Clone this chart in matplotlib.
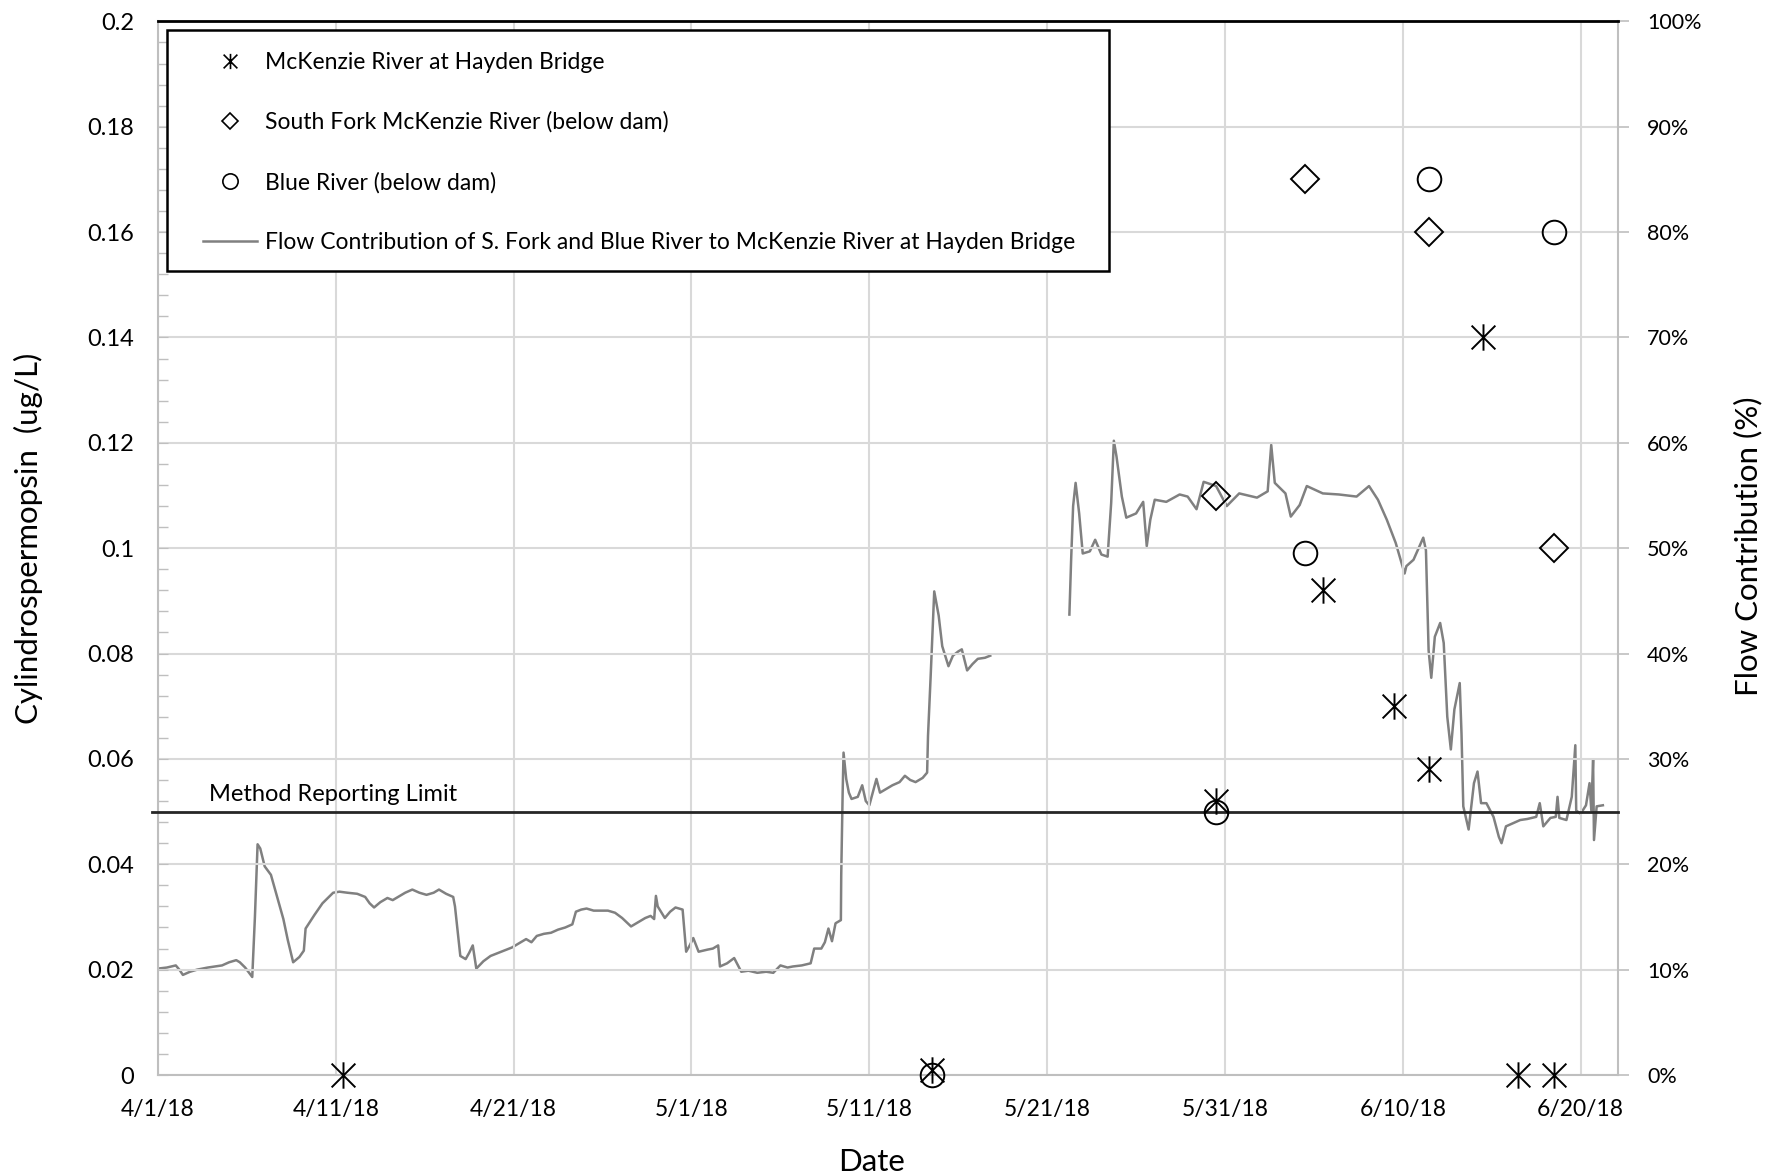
import numpy as np
import pandas as pd
import matplotlib
matplotlib.use("Agg")
import matplotlib.pyplot as plt
import matplotlib.dates as mdates
from matplotlib.lines import Line2D
from matplotlib.patches import Rectangle
from matplotlib.path import Path
from matplotlib.transforms import blended_transform_factory

# ---------------- data ----------------
start_date = "2018-04-01"

# sample days (offset in days from 4/1/18) and cylindrospermopsin (ug/L)
mckenzie_day = [10.4, 43.5, 59.5, 65.5, 69.5, 71.5, 74.5, 76.5, 78.5]
mckenzie_val = [0.0, 0.001, 0.052, 0.092, 0.070, 0.058, 0.140, 0.0, 0.0]

southfork_day = [59.5, 64.5, 71.5, 78.5]
southfork_val = [0.110, 0.170, 0.160, 0.100]

blue_day = [43.5, 59.5, 64.5, 71.5, 78.5]
blue_val = [0.0, 0.050, 0.099, 0.170, 0.160]

# flow contribution (%) time series, day offsets from 4/1/18 (gap = NaN)
flow_day = [
    0.0, 0.5, 1.0, 1.2, 1.4, 1.8, 2.2, 2.8, 3.2, 3.6, 4.0, 4.4, 4.6, 4.9, 5.3,
    5.45, 5.6, 5.75, 6.0, 6.35, 6.7, 7.05, 7.3, 7.6, 7.95, 8.2, 8.3, 8.8, 9.25,
    9.85, 10.2, 10.65, 11.2, 11.65, 11.9, 12.15, 12.5, 12.9, 13.2, 13.5, 13.9,
    14.3, 14.7, 15.1, 15.5, 15.8, 16.2, 16.6, 16.7, 17.0, 17.3, 17.5, 17.7,
    17.9, 18.3, 18.7, 19.3, 19.9, 20.3, 20.7, 21.0, 21.3, 21.7, 22.1, 22.5,
    22.9, 23.3, 23.5, 23.8, 24.1, 24.5, 24.9, 25.3, 25.7, 26.1, 26.6, 27.1,
    27.4, 27.7, 27.9, 28.0, 28.1, 28.5, 28.8, 29.1, 29.5, 29.7, 29.9, 30.1,
    30.4, 30.9, 31.2, 31.5, 31.6, 32.0, 32.4, 32.8, 33.2, 33.7, 34.2, 34.6,
    35.0, 35.4, 35.7, 36.2, 36.7, 36.9, 37.3, 37.5, 37.7, 37.9, 38.1, 38.4,
    38.42, 38.5, 38.55, 38.7, 38.85, 39.0, 39.35, 39.6, 39.8, 40.0, 40.4,
    40.6, 41.0, 41.3, 41.7, 42.0, 42.3, 42.6, 43.0, 43.25, 43.3, 43.45, 43.65,
    43.9, 44.1, 44.45, 44.7, 45.0, 45.2, 45.5, 45.8, 46.1, 46.5, 46.8,
    49.0,
    51.25, 51.35, 51.46, 51.6, 51.8, 52.0, 52.4, 52.7, 53.05, 53.4, 53.6,
    53.75, 53.9, 54.2, 54.45, 55.0, 55.4, 55.6, 55.8, 56.05, 56.7, 57.45,
    57.9, 58.4, 58.8, 59.5, 60.1, 60.8, 61.8, 62.4, 62.6, 62.8, 63.4, 63.7,
    64.2, 64.6, 65.5, 66.4, 67.4, 68.1, 68.6, 69.1, 69.6, 70.1, 70.2, 70.6,
    71.15, 71.3, 71.45, 71.6, 71.8, 72.1, 72.3, 72.5, 72.7, 72.9, 73.2, 73.3,
    73.4, 73.7, 74.0, 74.2, 74.4, 74.7, 75.1, 75.4, 75.55, 75.8, 76.2, 76.6,
    77.0, 77.5, 77.7, 77.9, 78.3, 78.6, 78.7, 78.8, 79.2, 79.5, 79.7, 79.75,
    80.0, 80.3, 80.5, 80.6, 80.7, 80.75, 80.9, 81.25,
]
flow_pct = [
    10.1, 10.2, 10.4, 10.0, 9.5, 9.8, 10.0, 10.2, 10.3, 10.4, 10.7, 10.9, 10.7,
    10.2, 9.3, 15.0, 21.9, 21.5, 19.8, 19.0, 16.9, 14.8, 12.8, 10.7, 11.2,
    11.8, 13.9, 15.2, 16.3, 17.3, 17.4, 17.3, 17.2, 16.9, 16.3, 15.9, 16.4,
    16.8, 16.6, 16.9, 17.3, 17.6, 17.3, 17.1, 17.3, 17.6, 17.2, 16.9, 16.0,
    11.3, 11.0, 11.6, 12.3, 10.1, 10.8, 11.3, 11.7, 12.1, 12.5, 12.9, 12.6,
    13.2, 13.4, 13.5, 13.8, 14.0, 14.3, 15.5, 15.7, 15.8, 15.6, 15.6, 15.6,
    15.4, 14.9, 14.1, 14.6, 14.9, 15.1, 14.8, 17.0, 16.0, 14.9, 15.5, 15.9,
    15.7, 11.7, 12.3, 13.0, 11.7, 11.9, 12.0, 12.3, 10.3, 10.6, 11.1, 9.8,
    9.9, 9.7, 9.8, 9.7, 10.4, 10.2, 10.3, 10.4, 10.6, 12.0, 12.0, 12.6, 13.9,
    12.7, 14.4, 14.7, 19.0, 26.8, 30.6, 28.1, 26.8, 26.2, 26.4, 27.5, 26.0,
    25.6, 28.1, 26.8, 27.2, 27.5, 27.8, 28.4, 28.0, 27.8, 28.2, 28.7, 32.2,
    37.9, 45.9, 43.6, 40.7, 38.8, 39.8, 40.2, 40.4, 38.4, 39.0, 39.5, 39.6,
    39.8,
    np.nan,
    43.7, 49.0, 54.0, 56.2, 53.3, 49.5, 49.7, 50.8, 49.4, 49.2, 54.3, 60.2,
    58.7, 54.9, 52.9, 53.3, 54.4, 50.2, 52.7, 54.6, 54.4, 55.1, 54.9, 53.7,
    56.3, 55.9, 54.0, 55.2, 54.8, 55.4, 59.8, 56.2, 55.2, 53.0, 54.1, 55.9,
    55.2, 55.1, 54.9, 55.9, 54.6, 52.7, 50.5, 47.6, 48.3, 48.9, 51.0, 49.8,
    40.3, 37.7, 41.6, 42.9, 41.0, 34.0, 30.9, 34.7, 37.2, 32.4, 25.5, 23.3,
    27.7, 28.8, 25.8, 25.8, 24.5, 22.6, 22.0, 23.6, 23.9, 24.2, 24.3, 24.5,
    25.8, 23.6, 24.4, 24.5, 26.4, 24.4, 24.2, 26.4, 31.3, 25.1, 24.8, 25.6,
    27.7, 25.1, 29.9, 22.3, 25.5, 25.6,
]

reporting_limit = 0.05

x_tick_labels = ["4/1/18", "4/11/18", "4/21/18", "5/1/18", "5/11/18",
                 "5/21/18", "5/31/18", "6/10/18", "6/20/18"]
y_tick_values = [0, 0.02, 0.04, 0.06, 0.08, 0.1, 0.12, 0.14, 0.16, 0.18, 0.2]
y_tick_labels = ["0", "0.02", "0.04", "0.06", "0.08", "0.1", "0.12", "0.14",
                 "0.16", "0.18", "0.2"]
y2_tick_values = [0, 10, 20, 30, 40, 50, 60, 70, 80, 90, 100]

legend_labels = ["McKenzie River at Hayden Bridge",
                 "South Fork McKenzie River (below dam)",
                 "Blue River (below dam)",
                 "Flow Contribution of S. Fork and Blue River to McKenzie River at Hayden Bridge"]

# ---------------- plotting ----------------
FONT = ["Lato", "DejaVu Sans"]
plt.rcParams["font.family"] = FONT

base = mdates.date2num(np.datetime64(start_date))
def d2x(days):
    return base + np.asarray(days, dtype=float)

# Excel-like star marker: an X plus a vertical bar
star = Path([(0, -1), (0, 1), (-0.9, -0.9), (0.9, 0.9), (-0.9, 0.9), (0.9, -0.9)],
            [Path.MOVETO, Path.LINETO, Path.MOVETO, Path.LINETO,
             Path.MOVETO, Path.LINETO])

fig = plt.figure(figsize=(17.69, 11.76), dpi=100)
W, H = 1769, 1176
L, R, B, T = 158, 1618, 1075, 21.4
ax = fig.add_axes([L / W, 1 - B / H, (R - L) / W, (B - T) / H])
ax2 = ax.twinx()
ax.set_zorder(ax2.get_zorder() + 1)
ax.patch.set_visible(False)

grid_c = "#d9d9d9"
axis_c = "#bfbfbf"
line_c = "#808080"

# flow contribution line (right axis)
ax2.plot(d2x(flow_day), flow_pct, color=line_c, lw=1.8, zorder=2)
ax2.set_ylim(0, 100)
ax2.set_yticks(y2_tick_values)
ax2.set_yticklabels([f"{v}%" for v in y2_tick_values], fontsize=15.5)
ax2.tick_params(axis="y", direction="out", length=8, width=1.2, color=axis_c,
                pad=13)
for s in ax2.spines.values():
    s.set_visible(False)
ax2.set_ylabel("Flow Contribution (%)", fontsize=22.5, va="center")
ax2.yaxis.set_label_coords(1.0893, 0.502)

# markers (left axis)
ax.plot(d2x(mckenzie_day), mckenzie_val, ls="none", marker=star, ms=19,
        mec="black", mew=1.4, color="black", zorder=5, clip_on=False)
ax.plot(d2x(southfork_day), southfork_val, ls="none", marker="D", ms=14,
        mfc="none", mec="black", mew=1.4, zorder=5, clip_on=False)
ax.plot(d2x(blue_day), blue_val, ls="none", marker="o", ms=17,
        mfc="none", mec="black", mew=1.4, zorder=5, clip_on=False)

# reporting limit
ax.axhline(reporting_limit, xmin=-0.004, xmax=1.0, color="#262626", lw=2,
           clip_on=False, zorder=4)
tr = blended_transform_factory(ax.transAxes, ax.transData)
ax.text(0.035, reporting_limit + 0.0012, "Method Reporting Limit", transform=tr,
        ha="left", va="bottom", fontsize=17, color="black")

# axes setup
xt = mdates.date2num(pd.to_datetime(x_tick_labels, format="%m/%d/%y"))
ax.set_xticks(xt)
ax.set_xticklabels(x_tick_labels, fontsize=16.5)
ax.set_xlim(d2x(0), d2x(82.1))
ax.set_ylim(0, 0.2)
ax.set_yticks(y_tick_values)
ax.set_yticklabels(y_tick_labels, fontsize=17)
ax.yaxis.set_minor_locator(matplotlib.ticker.MultipleLocator(0.004))
ax.tick_params(axis="y", which="major", direction="in", length=7,
               color=axis_c, pad=17)
ax.tick_params(axis="y", which="minor", direction="in", length=7,
               color=axis_c, width=1.0)
ax.tick_params(axis="x", length=0, pad=17)
ax.grid(True, which="major", color=grid_c, lw=1.5, zorder=0)
ax.set_axisbelow(True)

for side in ["left", "bottom", "right"]:
    ax.spines[side].set_color(axis_c)
    ax.spines[side].set_linewidth(1.5)
ax.spines["top"].set_color("black")
ax.spines["top"].set_linewidth(2)

ax.set_ylabel("Cylindrospermopsin  (ug/L)", fontsize=22.5, va="center")
ax.yaxis.set_label_coords(-0.0889, 0.509)
ax.set_xlabel("Date", fontsize=22.5, va="center")
ax.xaxis.set_label_coords(0.489, -0.0826)

# legend (frame drawn separately to match the reference padding)
ax.add_patch(Rectangle((0.00616, 0.7631), 0.6452, 0.2283, transform=ax.transAxes,
                       facecolor="white", edgecolor="black", lw=1.8,
                       zorder=9, clip_on=False))
handles = [
    Line2D([], [], ls="none", marker=star, ms=11, mec="black", mew=1.2,
           color="black"),
    Line2D([], [], ls="none", marker="D", ms=8, mfc="none", mec="black",
           mew=1.2),
    Line2D([], [], ls="none", marker="o", ms=11, mfc="none", mec="black",
           mew=1.2),
    Line2D([], [], color=line_c, lw=1.8),
]
leg = ax.legend(handles, legend_labels, loc="upper left",
                bbox_to_anchor=(0.0308, 0.9712), borderaxespad=0,
                fontsize=16.5, frameon=False, labelspacing=1.69,
                handlelength=2.36, handletextpad=0.35, borderpad=0)
leg.set_zorder(10)

fig.savefig("out.png", dpi=100)
